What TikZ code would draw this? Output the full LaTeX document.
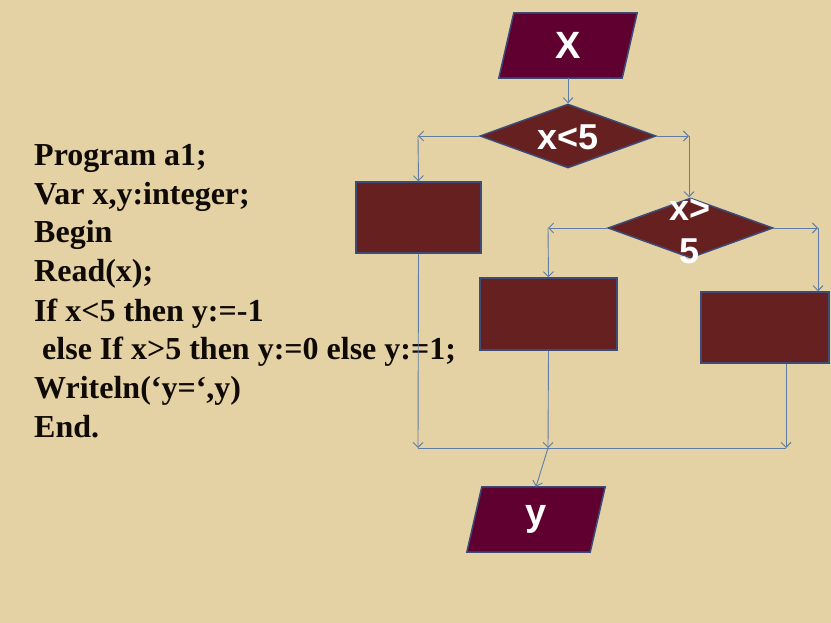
\documentclass[tikz,border=0pt]{standalone}
\usepackage{fontspec}
\setmainfont{Liberation Serif}
\newfontfamily\diasf{Liberation Sans}
\usetikzlibrary{shapes.geometric,arrows.meta}
\definecolor{bg}{RGB}{228,210,165}
\definecolor{parac}{RGB}{96,0,48}
\definecolor{boxc}{RGB}{102,32,32}
\definecolor{edgec}{RGB}{60,75,120}
\definecolor{conn}{RGB}{95,125,165}
\definecolor{ink}{RGB}{15,10,5}
\begin{document}
\begin{tikzpicture}[x=1pt,y=-1pt,
 io/.style={rectangle, minimum width=138pt, minimum height=65pt, inner sep=0pt, text=white, font=\diasf\bfseries\fontsize{38}{40}\selectfont},
 iofill/.style={fill=parac, draw=edgec, line width=1.5pt, line join=miter},
 proc/.style={rectangle, fill=boxc, draw=edgec, line width=1.5pt, inner sep=0pt},
 dec/.style={diamond, fill=boxc, draw=edgec, line width=1.5pt, inner sep=0pt},
 dtxt/.style={text=white, inner sep=0pt, font=\diasf\bfseries\fontsize{36}{43}\selectfont},
 code/.style={anchor=base west, inner sep=0pt, text=ink, font=\bfseries\fontsize{32}{38}\selectfont},
 arr/.style={draw=conn, line width=0.9pt, -{Straight Barb[length=5pt,width=10pt]}},
 ln/.style={draw=conn, line width=0.9pt}]
\fill[bg] (0,0) rectangle (831,623);
\useasboundingbox (0,0) rectangle (831,623);
% code
\node[code] (c1) at (34,166) {Program a1;};
\node[code] (c2) at (34,205) {Var x,y:integer;};
\node[code] (c3) at (34,243) {Begin};
\node[code] (c4) at (34,282) {Read(x);};
\node[code] (c5) at (34,321) {If x<5 then y:=-1};
\node[code] (c6) at (42,359) {else If x>5 then y:=0 else y:=1;};
\node[code] (c7) at (34,398) {Writeln(‘y=‘,y)};
\node[code] (c8) at (34,437) {End.};
% input / output parallelograms
\node[io] (X) at (568,45.5) {};
\node[io] (Y) at (536,519.5) {};
\path[iofill] (X.south west) -- ([xshift=-15pt]X.south east) -- (X.north east) -- ([xshift=15pt]X.north west) -- cycle;
\path[iofill] (Y.south west) -- ([xshift=-15pt]Y.south east) -- (Y.north east) -- ([xshift=15pt]Y.north west) -- cycle;
\node[io] (tX) at (X.center) {X};
\node[io] (tY) at (Y.center) {y};
% shapes
\node[dec, minimum width=176pt, minimum height=64pt] (d1) at (568,136) {};
\node[dtxt] (t1) at (568,137) {x<5};
\node[proc, minimum width=125pt, minimum height=71pt] (b1) at (418.5,217.5) {};
\node[dec, minimum width=165pt, minimum height=60pt] (d2) at (690.5,228) {};
\node[dtxt, align=center] (t2) at (690,231) {x>\\5};
\node[proc, minimum width=137pt, minimum height=72pt] (b2) at (548.5,314) {};
\node[proc, minimum width=128pt, minimum height=71pt] (b3) at (765,327.5) {};
% coordinates
\coordinate (cL) at (418,136);
\coordinate (cR) at (689,136);
\coordinate (c2L) at (548,228);
\coordinate (c2R) at (818,228);
\coordinate (j1) at (418,448);
\coordinate (j2) at (548,448);
\coordinate (j3) at (786,448);
% connectors
\draw[arr] (X.south -| d1.north) -- (d1.north);
\draw[arr] (d1.west) -- (cL);
\draw[arr] (cL) -- (b1.north);
\draw[arr] (d1.east) -- (cR);
\draw[arr] (cR) -- (cR |- d2.north);
\draw[arr] (d2.west) -- (c2L);
\draw[arr] (c2L) -- (b2.north);
\draw[arr] (d2.east) -- (c2R);
\draw[arr] (c2R) -- (c2R |- b3.north);
\draw[arr] (b1.south) -- (j1);
\draw[arr] (b2.south) -- (j2);
\draw[arr] (j3 |- b3.south) -- (j3);
\draw[ln] (j1) -- (j3);
\draw[arr] (j2) -- (Y.north);
\end{tikzpicture}
\end{document}
